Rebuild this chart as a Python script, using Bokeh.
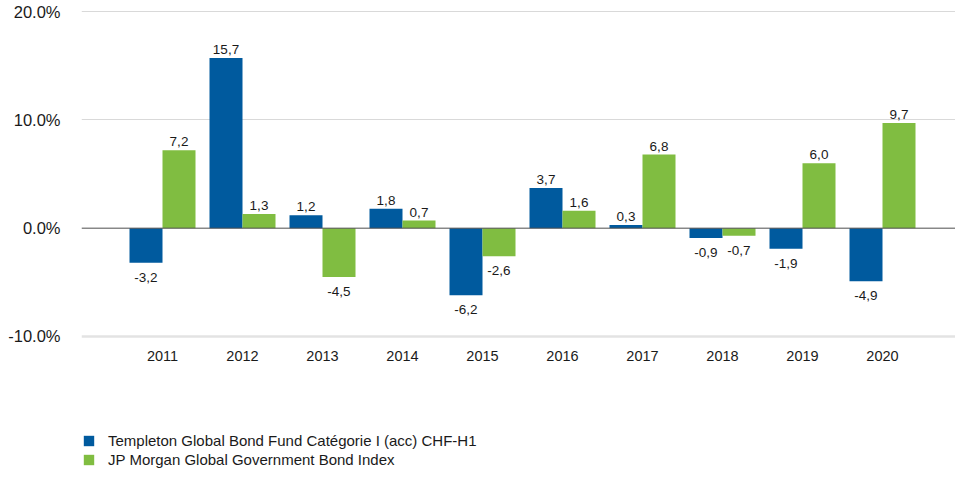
import numpy as np
from bokeh.plotting import figure
from bokeh.models import (ColumnDataSource, FixedTicker, Span, Legend, LegendItem,
                          Range1d)
from bokeh.core.properties import value
from bokeh.embed import file_html
from bokeh.resources import INLINE

years = ["2011", "2012", "2013", "2014", "2015", "2016", "2017", "2018", "2019", "2020"]
fund = [-3.2, 15.7, 1.2, 1.8, -6.2, 3.7, 0.3, -0.9, -1.9, -4.9]
index = [7.2, 1.3, -4.5, 0.7, -2.6, 1.6, 6.8, -0.7, 6.0, 9.7]
series_names = ["Templeton Global Bond Fund Catégorie I (acc) CHF-H1",
                "JP Morgan Global Government Bond Index"]
y_ticks = [-10, 0, 10, 20]
y_tick_labels = ["-10.0%", "0.0%", "10.0%", "20.0%"]

BLUE = "#005A9E"
GREEN = "#80BD41"
FONT = "Liberation Sans"
TXT = "#1a1a1a"

W, H = 955, 469
p = figure(width=W, height=H, output_backend="svg", toolbar_location=None,
           x_axis_location=None, min_border_left=81, min_border_right=0,
           min_border_top=0, min_border_bottom=0)
p.x_range = Range1d(-1.0125, 9.9125)
p.y_range = Range1d(-22.28, 21.02)
p.outline_line_color = None
p.background_fill_color = "white"
p.border_fill_color = "white"

# grid
p.xgrid.visible = False
p.ygrid.ticker = FixedTicker(ticks=[10, 20])
p.ygrid.grid_line_color = "#d9d9d9"
p.ygrid.grid_line_width = 1

# y axis
p.yaxis.ticker = FixedTicker(ticks=y_ticks)
p.yaxis.major_label_overrides = {t: l for t, l in zip(y_ticks, y_tick_labels)}
p.yaxis.axis_line_color = None
p.yaxis.major_tick_line_color = None
p.yaxis.minor_tick_line_color = None
p.yaxis.major_tick_out = 0
p.yaxis.major_label_standoff = 21
p.yaxis.major_label_text_font = FONT
p.yaxis.major_label_text_font_size = "16.5px"
p.yaxis.major_label_text_color = TXT

xs = np.arange(len(years))
off = 0.20625
bw = 0.4125

def fmt(v):
    return f"{v:.1f}".replace(".", ",")

src_f = ColumnDataSource(dict(x=xs - off, top=fund))
src_i = ColumnDataSource(dict(x=xs + off, top=index))

rf = p.vbar(x="x", top="top", bottom=0, width=bw, source=src_f,
            fill_color=BLUE, line_color=None)
ri = p.vbar(x="x", top="top", bottom=0, width=bw, source=src_i,
            fill_color=GREEN, line_color=None)

# axis lines
p.add_layout(Span(location=0, dimension="width", line_color="#4d4d4d", line_width=1))
p.add_layout(Span(location=-10, dimension="width", line_color="#e3e3e3", line_width=2.5))

# data labels
for vals, xpos in ((fund, xs - off), (index, xs + off)):
    pos = [i for i, v in enumerate(vals) if v >= 0]
    neg = [i for i, v in enumerate(vals) if v < 0]
    p.text(x=[xpos[i] for i in pos], y=[vals[i] for i in pos],
           text=[fmt(vals[i]) for i in pos], text_align="center",
           text_baseline="bottom", y_offset=-4, text_font=value(FONT),
           text_font_size="13.5px", text_color=TXT)
    p.text(x=[xpos[i] for i in neg], y=[vals[i] for i in neg],
           text=[fmt(vals[i]) for i in neg], text_align="center",
           text_baseline="top", y_offset=10, text_font=value(FONT),
           text_font_size="13.5px", text_color=TXT)

# category labels (x axis)
p.text(x=xs, y=[-10] * len(xs), text=years, text_align="center",
       text_baseline="middle", y_offset=20, text_font=value(FONT),
       text_font_size="14.5px", text_color=TXT)

legend = Legend(items=[LegendItem(label=series_names[0], renderers=[rf]),
                       LegendItem(label=series_names[1], renderers=[ri])],
                location=(1, 1), orientation="vertical",
                glyph_width=13, glyph_height=13, label_height=13,
                label_standoff=13, spacing=2, padding=0, margin=0,
                border_line_color=None, background_fill_alpha=0,
                label_text_font=FONT, label_text_font_size="15px",
                label_text_color=TXT)
p.add_layout(legend)

open("out.html", "w").write(file_html(p, INLINE))
